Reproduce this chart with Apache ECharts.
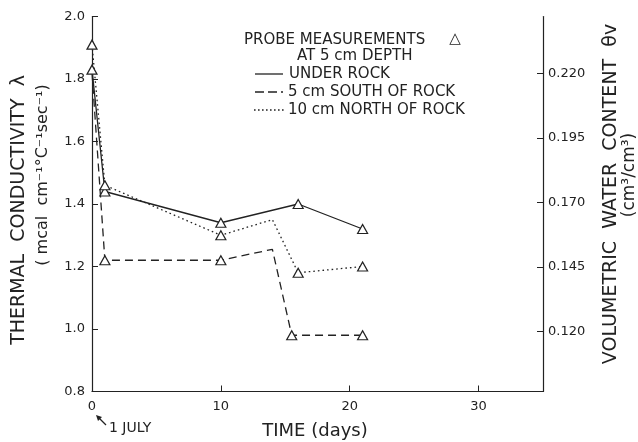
<!DOCTYPE html>
<html>
<head>
<meta charset="utf-8">
<script src="https://cdn.jsdelivr.net/npm/echarts@6/dist/echarts.min.js"></script>
<style>html,body{margin:0;padding:0;background:#fff;}#c{width:638px;height:442px;}</style>
</head>
<body>
<div id="c"></div>
<script>
// ---- data ----
const underDays = [0, 1, 10, 16, 21];
const underVals = [1.83, 1.44, 1.34, 1.40, 1.32];
const underMark = [true, true, true, true, true];

const southDays = [0, 1, 10, 14, 15.5, 21];
const southVals = [1.82, 1.22, 1.22, 1.255, 0.98, 0.98];
const southMark = [false, true, true, false, true, true];

const northDays = [0, 1, 10, 14, 16, 21];
const northVals = [1.91, 1.46, 1.30, 1.35, 1.18, 1.20];
const northMark = [true, true, true, false, true, true];

const leftTicks = [0.8, 1.0, 1.2, 1.4, 1.6, 1.8, 2.0];
const rightTicks = [0.120, 0.145, 0.170, 0.195, 0.220];
const xTicks = [0, 10, 20, 30];

const INK = '#222';
const FONT = '"DejaVu Sans", sans-serif';

function build(days, vals, marks) {
  return days.map((d, i) => marks[i] ? [d, vals[i]] : { value: [d, vals[i]], symbol: 'none' });
}

function lineSeries(name, days, vals, marks, type) {
  return {
    name, type: 'line', xAxisIndex: 0, yAxisIndex: 0,
    data: build(days, vals, marks),
    symbol: 'triangle', symbolSize: [10, 9], showAllSymbol: true,
    itemStyle: { color: '#fff', borderColor: INK, borderWidth: 1.2 },
    lineStyle: { color: INK, width: 1.3, type: type },
    emphasis: { disabled: true }, z: 3
  };
}

const LEG = '15px ' + FONT;
const chart = echarts.init(document.getElementById('c'), null, { renderer: 'canvas' });
chart.setOption({
  animation: false,
  backgroundColor: '#fff',
  grid: { left: 92, right: 95, top: 16.5, bottom: 50.5, containLabel: false },
  xAxis: {
    type: 'value', min: 0, max: 35, interval: 10,
    axisLine: { show: true, lineStyle: { color: INK, width: 1.2 } },
    axisTick: { show: true, inside: true, length: 6, lineStyle: { color: INK }, customValues: xTicks },
    axisLabel: { color: INK, fontSize: 13, fontFamily: FONT, margin: 9, customValues: xTicks },
    splitLine: { show: false }
  },
  yAxis: [
    {
      type: 'value', min: 0.8, max: 2.0, interval: 0.2, position: 'left',
      axisLine: { show: true, lineStyle: { color: INK, width: 1.2 } },
      axisTick: { show: true, inside: true, length: 6, lineStyle: { color: INK } },
      axisLabel: { color: INK, fontSize: 13, fontFamily: FONT, margin: 7,
        formatter: v => v.toFixed(1) },
      splitLine: { show: false }
    },
    {
      type: 'value', min: 0.0967, max: 0.2421, position: 'right',
      axisLine: { show: true, onZero: false, lineStyle: { color: INK, width: 1.2 } },
      axisTick: { show: true, inside: true, length: 6, lineStyle: { color: INK }, customValues: rightTicks },
      axisLabel: { color: INK, fontSize: 13, fontFamily: FONT, margin: 5, customValues: rightTicks,
        formatter: v => v.toFixed(3) },
      splitLine: { show: false }
    }
  ],
  series: [
    lineSeries('UNDER ROCK', underDays, underVals, underMark, 'solid'),
    lineSeries('5 cm SOUTH OF ROCK', southDays, southVals, southMark, [8, 5]),
    lineSeries('10 cm NORTH OF ROCK', northDays, northVals, northMark, [1.6, 3])
  ],
  graphic: [
    // legend
    { type: 'text', x: 244, y: 40, style: { text: 'PROBE MEASUREMENTS', font: LEG, fill: INK, verticalAlign: 'middle' } },
    { type: 'text', x: 455, y: 39, style: { text: '△', font: LEG, fill: INK, align: 'center', verticalAlign: 'middle' } },
    { type: 'text', x: 297, y: 56, style: { text: 'AT 5 cm DEPTH', font: LEG, fill: INK, verticalAlign: 'middle' } },
    { type: 'line', shape: { x1: 255, y1: 74, x2: 283, y2: 74 }, style: { stroke: INK, lineWidth: 1.3 } },
    { type: 'line', shape: { x1: 255, y1: 92, x2: 283, y2: 92 }, style: { stroke: INK, lineWidth: 1.3, lineDash: [9, 4] } },
    { type: 'line', shape: { x1: 254, y1: 110, x2: 285, y2: 110 }, style: { stroke: INK, lineWidth: 1.3, lineDash: [1.6, 2.4] } },
    { type: 'text', x: 289, y: 74, style: { text: 'UNDER ROCK', font: LEG, fill: INK, verticalAlign: 'middle' } },
    { type: 'text', x: 288, y: 92, style: { text: '5 cm SOUTH OF ROCK', font: LEG, fill: INK, verticalAlign: 'middle' } },
    { type: 'text', x: 288, y: 110, style: { text: '10 cm NORTH OF ROCK', font: LEG, fill: INK, verticalAlign: 'middle' } },
    // left titles
    { type: 'text', x: 19, y: 210, rotation: Math.PI / 2, style: { text: 'THERMAL  CONDUCTIVITY  λ', font: '19px ' + FONT, fill: INK, align: 'center', verticalAlign: 'middle' } },
    { type: 'text', x: 43, y: 175, rotation: Math.PI / 2, style: { text: '( mcal  cm⁻¹°C⁻¹sec⁻¹)', font: '16px ' + FONT, fill: INK, align: 'center', verticalAlign: 'middle' } },
    // right titles
    { type: 'text', x: 611, y: 194, rotation: Math.PI / 2, style: { text: 'VOLUMETRIC  WATER  CONTENT  θv', font: '19px ' + FONT, fill: INK, align: 'center', verticalAlign: 'middle' } },
    { type: 'text', x: 630, y: 175, rotation: Math.PI / 2, style: { text: '(cm³/cm³)', font: '17px ' + FONT, fill: INK, align: 'center', verticalAlign: 'middle' } },
    // x title
    { type: 'text', x: 315, y: 431, style: { text: 'TIME (days)', font: '18px ' + FONT, fill: INK, align: 'center', verticalAlign: 'middle' } },
    // 1 JULY annotation
    { type: 'line', shape: { x1: 106, y1: 425, x2: 98, y2: 417 }, style: { stroke: INK, lineWidth: 1.3 } },
    { type: 'polygon', shape: { points: [[96, 415], [102, 417], [98, 421]] }, style: { fill: INK } },
    { type: 'text', x: 109, y: 428, style: { text: '1 JULY', font: '14px ' + FONT, fill: INK, verticalAlign: 'middle' } }
  ]
});
</script>
</body>
</html>
